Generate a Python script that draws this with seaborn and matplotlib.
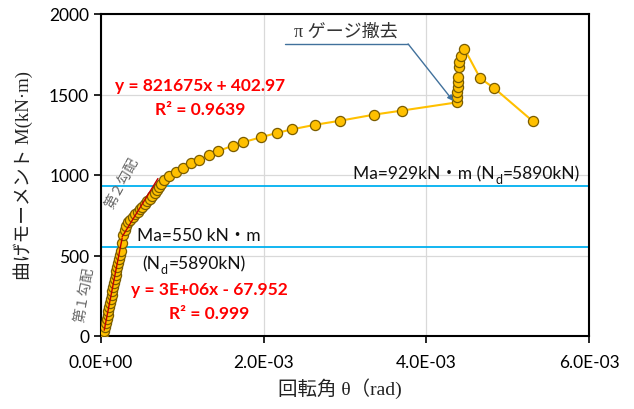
import matplotlib
matplotlib.use("Agg")
import matplotlib.pyplot as plt
import seaborn as sns
import numpy as np
import pandas as pd

# ---- data ----
theta_e3 = [0.02, 0.04, 0.05, 0.06, 0.07, 0.08, 0.09, 0.10, 0.11, 0.12, 0.13, 0.14,
            0.15, 0.16, 0.17, 0.18, 0.19, 0.20, 0.21, 0.22, 0.23, 0.24, 0.255, 0.27,
            0.29, 0.31, 0.335, 0.36, 0.39, 0.42, 0.45, 0.48, 0.51, 0.54, 0.57, 0.60,
            0.63, 0.66, 0.685, 0.71, 0.74, 0.775, 0.84, 0.922, 1.012, 1.107, 1.209,
            1.332, 1.443, 1.62, 1.743, 1.964, 2.161, 2.353, 2.632, 2.94, 3.358, 3.698,
            4.375, 4.383, 4.383, 4.385, 4.388, 4.392, 4.398, 4.40, 4.428, 4.469,
            4.662, 4.838, 5.309]
moment = [5, 30, 55, 80, 105, 130, 155, 180, 205, 230, 255, 280,
          305, 330, 355, 380, 405, 430, 455, 480, 505, 530, 580, 630,
          660, 685, 706, 722, 740, 757, 773, 788, 804, 820, 836, 851,
          868, 887, 905, 925, 945, 969, 996, 1020, 1045, 1073, 1093,
          1124, 1149, 1182, 1203, 1234, 1261, 1284, 1312, 1337, 1375, 1400,
          1451, 1482, 1514, 1545, 1576, 1607, 1669, 1700, 1741, 1783,
          1601, 1538, 1334]

ma_levels = [550, 929]
fit1 = [2.6e6, -67.952]      # slope, intercept (label: 3E+06)
fit1_range = [0.04e-3, 0.26e-3]
fit2 = [821675, 402.97]
fit2_range = [0.26e-3, 0.70e-3]

xticks = [0.0, 2e-3, 4e-3, 6e-3]
xticklabels = ["0.0E+00", "2.0E-03", "4.0E-03", "6.0E-03"]
yticks = [0, 500, 1000, 1500, 2000]

df = pd.DataFrame({"theta": np.array(theta_e3) * 1e-3, "M": moment})

sns.set_theme(style="white")
plt.rcParams["font.family"] = ["Lato", "Noto Sans CJK JP", "DejaVu Sans"]

fig = plt.figure(figsize=(6.34, 4.10), dpi=100)
ax = fig.add_axes([101 / 634, 1 - 337 / 410, (589 - 101) / 634, (337 - 15) / 410])

ax.set_xlim(0, 6e-3)
ax.set_ylim(0, 2000)
ax.set_xticks(xticks)
ax.set_xticklabels(xticklabels)
ax.set_yticks(yticks)
ax.grid(True, color="#d9d9d9", linewidth=0.9)
ax.set_axisbelow(True)
for s in ax.spines.values():
    s.set_color("black")
    s.set_linewidth(1.5)
ax.tick_params(axis="both", which="major", length=5, width=1.2, color="black",
               labelsize=12.5, labelcolor="black", direction="out",
               bottom=True, left=True)
ax.tick_params(axis="x", pad=8)

# horizontal Ma lines
for lv in ma_levels:
    ax.axhline(lv, color="#00B0F0", linewidth=1.3, zorder=2)

# data
sns.lineplot(data=df, x="theta", y="M", sort=False, estimator=None, ax=ax,
             color="#FFC000", linewidth=1.5, marker="o", markersize=7.3,
             markerfacecolor="#FFC000", markeredgecolor="#7a5c00",
             markeredgewidth=0.9, zorder=3)

# trend lines
for (a, b), (x0, x1) in [(fit1, fit1_range), (fit2, fit2_range)]:
    xs = np.array([x0, x1])
    ax.plot(xs, a * xs + b, color="#C00000", linewidth=1.0, zorder=4)

ax.set_xlabel("")
ax.set_ylabel("")

serif_cjk = ["Liberation Serif", "Noto Sans CJK JP"]
fig.text(23 / 634, 1 - 176 / 410, "曲げモーメント M(kN·m)", rotation=90, ha="center", va="center",
         fontsize=13.5, family=serif_cjk, color="#222222")
fig.text(340 / 634, 1 - 389 / 410, "回転角 θ（rad)", ha="center", va="center",
         fontsize=14, family=serif_cjk, color="#222222")

# red fit labels
red = "#FF0000"
fig.text(200 / 634, 1 - 86 / 410, "y = 821675x + 402.97", ha="center", va="center",
         fontsize=12.5, fontweight="bold", color=red)
fig.text(200 / 634, 1 - 110 / 410, "R² = 0.9639", ha="center", va="center",
         fontsize=12.5, fontweight="bold", color=red)
fig.text(209 / 634, 1 - 290 / 410, "y = 3E+06x - 67.952", ha="center", va="center",
         fontsize=12.5, fontweight="bold", color=red)
fig.text(209 / 634, 1 - 314 / 410, "R² = 0.999", ha="center", va="center",
         fontsize=12.5, fontweight="bold", color=red)


def sub_label(x0, y0, before, sub, after, size=12.5, color="#111111"):
    t1 = fig.text(x0 / 634, 1 - y0 / 410, before, ha="left", va="bottom",
                  fontsize=size, color=color)
    t2 = ax.annotate(sub, xy=(1, 0), xycoords=t1, xytext=(0.5, -3),
                     textcoords="offset points", ha="left", va="bottom",
                     fontsize=size * 0.72, color=color, annotation_clip=False)
    ax.annotate(after, xy=(1, 0), xycoords=(t2, t1), xytext=(0.5, 0),
                textcoords="offset points", ha="left", va="bottom",
                fontsize=size, color=color, annotation_clip=False)


# Ma labels
fig.text(137 / 634, 1 - 236 / 410, "Ma=550 kN・m", ha="left", va="center",
         fontsize=12.5, color="#111111")
sub_label(142, 272, "(N", "d", "=5890kN)")
sub_label(353, 182, "Ma=929kN・m (N", "d", "=5890kN)")

# slope labels
gray = "#666666"
fig.text(84 / 634, 1 - 295 / 410, "第１勾配", rotation=80, ha="center", va="center",
         fontsize=10, color=gray, family=["Noto Sans CJK JP"])
fig.text(122 / 634, 1 - 183 / 410, "第２勾配", rotation=62, ha="center", va="center",
         fontsize=10, color=gray, family=["Noto Sans CJK JP"])

# pi gauge annotation
fig.text(346 / 634, 1 - 32 / 410, "π ゲージ撤去", ha="center", va="center",
         fontsize=13, color="#333333", family=serif_cjk)
line_c = "#41719C"
ax.plot([2.263e-3, 3.776e-3], [1814, 1814], color=line_c, linewidth=1.0, clip_on=False)
ax.annotate("", xy=(4.33e-3, 1460), xytext=(3.776e-3, 1814),
            arrowprops=dict(arrowstyle="-|>", color=line_c, lw=1.0, mutation_scale=8,
                            shrinkA=0, shrinkB=0))

fig.savefig("out.png", dpi=100)
